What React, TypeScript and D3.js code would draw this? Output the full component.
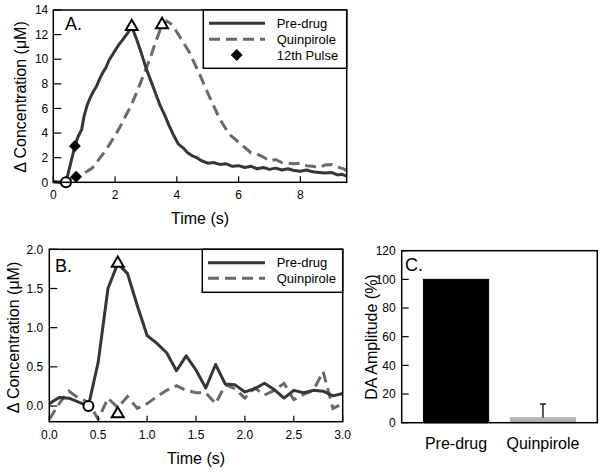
import React from 'react';
import * as d3 from 'd3';

// ---------- Panel A data ----------
const aPreTime = [0, 0.2, 0.41, 0.7, 0.8, 0.92, 1.0, 1.1, 1.2, 1.3, 1.4, 1.5, 1.6, 1.7, 1.8, 1.95, 2.1, 2.25, 2.4, 2.54, 2.7, 2.85, 3.0, 3.15, 3.3, 3.45, 3.6, 3.75, 3.9, 4.05, 4.2, 4.35, 4.5, 4.65, 4.8, 5.0, 5.2, 5.4, 5.6, 5.8, 6.0, 6.2, 6.4, 6.6, 6.8, 7.0, 7.2, 7.4, 7.6, 7.8, 8.0, 8.2, 8.4, 8.6, 8.8, 9.0, 9.2, 9.35, 9.5];
const aPreConc = [0.05, 0.0, 0.0, 2.95, 3.7, 4.3, 5.4, 6.3, 6.9, 7.4, 7.8, 8.4, 8.9, 9.3, 9.9, 10.5, 11.1, 11.6, 12.1, 12.65, 11.6, 10.5, 9.3, 8.3, 7.3, 6.3, 5.5, 4.6, 3.8, 3.1, 2.8, 2.4, 2.15, 2.0, 1.75, 1.55, 1.6, 1.45, 1.5, 1.3, 1.35, 1.2, 1.3, 1.1, 1.2, 1.05, 1.15, 1.0, 1.1, 0.95, 0.9, 1.0, 0.85, 0.8, 0.75, 0.8, 0.6, 0.65, 0.5];

const aQuinTime = [0, 0.2, 0.41, 0.55, 0.74, 0.85, 0.97, 1.1, 1.25, 1.5, 1.7, 1.84, 2.0, 2.16, 2.3, 2.49, 2.65, 2.81, 3.0, 3.15, 3.3, 3.52, 3.67, 3.85, 4.1, 4.4, 4.75, 5.1, 5.4, 5.7, 6.05, 6.4, 6.6, 6.8, 7.0, 7.2, 7.4, 7.6, 7.8, 8.0, 8.2, 8.4, 8.6, 8.8, 9.0, 9.2, 9.4, 9.5];
const aQuinConc = [0.05, 0.0, 0.05, 0.3, 0.45, 0.55, 0.72, 0.9, 1.13, 1.94, 2.6, 3.16, 3.8, 4.5, 5.2, 6.1, 7.0, 8.0, 9.2, 10.2, 11.3, 12.78, 13.1, 12.8, 11.8, 10.6, 8.7, 6.7, 5.1, 3.9, 3.15, 2.4, 2.3, 2.05, 1.75, 1.85, 1.6, 1.55, 1.5, 1.55, 1.35, 1.3, 1.2, 1.4, 1.45, 1.25, 1.1, 0.95];

const aPulseTime = [0.7, 0.74];
const aPulseConc = [2.95, 0.45];
const aPeakTime = [2.54, 3.52];
const aPeakConc = [12.65, 12.8];
const aStartTime = [0.41];
const aStartConc = [0];
const aXTicks = [0, 2, 4, 6, 8];
const aYTicks = [0, 2, 4, 6, 8, 10, 12, 14];

// ---------- Panel B data ----------
const bTime = [0, 0.1, 0.2, 0.3, 0.4, 0.5, 0.6, 0.7, 0.8, 0.9, 1.0, 1.1, 1.2, 1.3, 1.4, 1.5, 1.6, 1.7, 1.8, 1.9, 2.0, 2.1, 2.2, 2.3, 2.4, 2.5, 2.6, 2.7, 2.8, 2.9, 3.0];
const bPre = [0.03, 0.11, 0.1, 0.05, 0.0, 0.56, 1.5, 1.82, 1.69, 1.28, 0.9, 0.8, 0.68, 0.45, 0.64, 0.46, 0.23, 0.53, 0.28, 0.27, 0.18, 0.22, 0.29, 0.21, 0.1, 0.2, 0.17, 0.2, 0.19, 0.13, 0.16];
const bQuin = [-0.17, 0.03, 0.19, 0.1, 0.05, -0.17, 0.1, -0.02, 0.12, -0.03, 0.03, 0.12, 0.2, 0.26, 0.2, 0.17, 0.17, 0.03, 0.27, 0.22, 0.1, 0.23, 0.14, 0.2, 0.29, 0.08, 0.15, 0.2, 0.44, -0.03, 0.03];
const bPeakTime = [0.7, 0.7];
const bPeakConc = [1.82, -0.1];
const bStartTime = [0.4];
const bStartConc = [0];
const bXTicks = [0, 0.5, 1.0, 1.5, 2.0, 2.5, 3.0];
const bYTicks = [0, 0.5, 1.0, 1.5, 2.0];

// ---------- Panel C data ----------
const cCategories = ['Pre-drug', 'Quinpirole'];
const cValues = [100, 3.5];
const cErrors = [0, 9.5];
const cYTicks = [0, 20, 40, 60, 80, 100, 120];

const FONT = 'Liberation Sans, Arial, Helvetica, sans-serif';
const PRE_COLOR = '#363636';
const QUIN_COLOR = '#6a6a6a';
const DASH = '11,6';

const tri = d3.symbol(d3.symbolTriangle, 62)() as string;
const sq = d3.symbol(d3.symbolSquare, 70)() as string;

function Frame({ x0, x1, y0, y1 }: any) {
  return <rect x={x0} y={y0} width={x1 - x0} height={y1 - y0} fill="none" stroke="#000" strokeWidth={1.5} />;
}

function PanelA() {
  const x = d3.scaleLinear().domain([0, 9.5]).range([53.3, 346.7]);
  const y = d3.scaleLinear().domain([0, 14]).range([182.3, 10]);
  const line = d3.line<number>().x((d, i) => 0).y(() => 0);
  const mk = (ts: number[], cs: number[]) =>
    d3.line<number>().x((t) => x(t)).y((_, i) => y(cs[i]))(ts) as string;
  void line;
  const [x0, x1] = x.range();
  const [y0, y1] = [y(14), y(0)];
  return (
    <g fontFamily={FONT}>
      <path d={mk(aQuinTime, aQuinConc)} fill="none" stroke={QUIN_COLOR} strokeWidth={3} strokeDasharray={DASH} />
      <path d={mk(aPreTime, aPreConc)} fill="none" stroke={PRE_COLOR} strokeWidth={3} strokeLinejoin="round" />
      {aPulseTime.map((t, i) => (
        <path key={'p' + i} d={sq} transform={`translate(${x(t)},${y(aPulseConc[i])}) rotate(45)`} fill="#000" />
      ))}
      {aStartTime.map((t, i) => (
        <circle key={'s' + i} cx={x(t)} cy={y(aStartConc[i])} r={5} fill="#fff" stroke="#000" strokeWidth={2} />
      ))}
      {aPeakTime.map((t, i) => (
        <path key={'k' + i} d={tri} transform={`translate(${x(t)},${y(aPeakConc[i])})`} fill="#fff" stroke="#000" strokeWidth={2} />
      ))}
      <Frame x0={x0} x1={x1} y0={y0} y1={y1} />
      {aXTicks.map((t) => (
        <g key={'xt' + t}>
          <line x1={x(t)} x2={x(t)} y1={y1} y2={y1 - 6} stroke="#000" strokeWidth={1.2} />
          <text x={x(t)} y={y1 + 17} fontSize={12} textAnchor="middle">{t}</text>
        </g>
      ))}
      {aYTicks.map((t) => (
        <g key={'yt' + t}>
          <line x1={x0} x2={x0 + 8} y1={y(t)} y2={y(t)} stroke="#000" strokeWidth={1.2} />
          <text x={x0 - 5} y={y(t)} dy="0.35em" fontSize={12} textAnchor="end">{t}</text>
        </g>
      ))}
      <text x={65} y={30} fontSize={18}>A.</text>
      <text x={(x0 + x1) / 2} y={224} fontSize={16} textAnchor="middle">Time (s)</text>
      <text transform={`translate(20,97) rotate(-90)`} dy="0.35em" fontSize={16} textAnchor="middle">Δ Concentration (μM)</text>
      {/* legend */}
      <rect x={203.3} y={10} width={143.4} height={58.3} fill="#fff" stroke="#000" strokeWidth={1.5} />
      <line x1={209} x2={265} y1={23.3} y2={23.3} stroke={PRE_COLOR} strokeWidth={3} />
      <line x1={209} x2={265} y1={39.3} y2={39.3} stroke={QUIN_COLOR} strokeWidth={3} strokeDasharray={DASH} />
      <path d={sq} transform="translate(236.7,55) rotate(45)" fill="#000" />
      <text x={276.7} y={23.3} dy="0.35em" fontSize={13}>Pre-drug</text>
      <text x={276.7} y={39.3} dy="0.35em" fontSize={13}>Quinpirole</text>
      <text x={276.7} y={55} dy="0.35em" fontSize={13}>12th Pulse</text>
    </g>
  );
}

function PanelB() {
  const x = d3.scaleLinear().domain([0, 3]).range([49.3, 342.7]);
  const y = d3.scaleLinear().domain([-0.2, 2.0]).range([421.7, 249.3]);
  const mk = (vals: number[]) => d3.line<number>().x((t) => x(t)).y((_, i) => y(vals[i]))(bTime) as string;
  const [x0, x1] = x.range();
  const [y1, y0] = y.range();
  return (
    <g fontFamily={FONT}>
      <defs>
        <clipPath id="clipB">
          <rect x={x0} y={y0} width={x1 - x0} height={y1 - y0} />
        </clipPath>
      </defs>
      <g clipPath="url(#clipB)">
        <path d={mk(bQuin)} fill="none" stroke={QUIN_COLOR} strokeWidth={3} strokeDasharray={DASH} />
        <path d={mk(bPre)} fill="none" stroke={PRE_COLOR} strokeWidth={3} strokeLinejoin="round" />
      </g>
      {bStartTime.map((t, i) => (
        <circle key={'s' + i} cx={x(t)} cy={y(bStartConc[i])} r={5} fill="#fff" stroke="#000" strokeWidth={2} />
      ))}
      {bPeakTime.map((t, i) => (
        <path key={'k' + i} d={tri} transform={`translate(${x(t)},${y(bPeakConc[i])})`} fill="#fff" stroke="#000" strokeWidth={2} />
      ))}
      <Frame x0={x0} x1={x1} y0={y0} y1={y1} />
      {bXTicks.map((t) => (
        <g key={'xt' + t}>
          <line x1={x(t)} x2={x(t)} y1={y1} y2={y1 - 6} stroke="#000" strokeWidth={1.2} />
          <text x={x(t)} y={y1 + 17} fontSize={12} textAnchor="middle">{d3.format('.1f')(t)}</text>
        </g>
      ))}
      {bYTicks.map((t) => (
        <g key={'yt' + t}>
          <line x1={x0} x2={x0 + 8} y1={y(t)} y2={y(t)} stroke="#000" strokeWidth={1.2} />
          <text x={x0 - 6} y={y(t)} dy="0.35em" fontSize={12} textAnchor="end">{d3.format('.1f')(t)}</text>
        </g>
      ))}
      <text x={55} y={271.7} fontSize={18}>B.</text>
      <text x={(x0 + x1) / 2} y={464} fontSize={16} textAnchor="middle">Time (s)</text>
      <text transform={`translate(13,337.5) rotate(-90)`} dy="0.35em" fontSize={16} textAnchor="middle">Δ Concentration (μM)</text>
      <rect x={202.3} y={249.3} width={140.4} height={43} fill="#fff" stroke="#000" strokeWidth={1.5} />
      <line x1={208} x2={265} y1={262.7} y2={262.7} stroke={PRE_COLOR} strokeWidth={3} />
      <line x1={208} x2={265} y1={278.3} y2={278.3} stroke={QUIN_COLOR} strokeWidth={3} strokeDasharray={DASH} />
      <text x={276.7} y={262.7} dy="0.35em" fontSize={13}>Pre-drug</text>
      <text x={276.7} y={278.3} dy="0.35em" fontSize={13}>Quinpirole</text>
    </g>
  );
}

function PanelC() {
  const x = d3.scaleBand<string>().domain(cCategories).range([401.7, 597.3]).paddingInner(0.25).paddingOuter(0.25);
  const y = d3.scaleLinear().domain([0, 120]).range([422.7, 250.7]);
  const [x0, x1] = x.range();
  const [y1, y0] = y.range();
  const colors = ['#000000', '#b4b4b4'];
  return (
    <g fontFamily={FONT}>
      {cCategories.map((c, i) => (
        <rect key={c} x={x(c)} y={y(cValues[i])} width={x.bandwidth()} height={y(0) - y(cValues[i])} fill={colors[i]} stroke={colors[i]} />
      ))}
      {cCategories.map((c, i) =>
        cErrors[i] > 0 ? (
          <g key={'e' + c} stroke="#222" strokeWidth={1.5}>
            <line x1={x(c)! + x.bandwidth() / 2} x2={x(c)! + x.bandwidth() / 2} y1={y(cValues[i])} y2={y(cValues[i] + cErrors[i])} />
            <line x1={x(c)! + x.bandwidth() / 2 - 3} x2={x(c)! + x.bandwidth() / 2 + 3} y1={y(cValues[i] + cErrors[i])} y2={y(cValues[i] + cErrors[i])} />
          </g>
        ) : null
      )}
      <Frame x0={x0} x1={x1} y0={y0} y1={y1} />
      {cYTicks.map((t) => (
        <g key={'yt' + t}>
          <line x1={x0} x2={x0 + 7} y1={y(t)} y2={y(t)} stroke="#000" strokeWidth={1.2} />
          <text x={x0 - 6} y={y(t)} dy="0.35em" fontSize={12} textAnchor="end">{t}</text>
        </g>
      ))}
      {cCategories.map((c) => (
        <text key={'l' + c} x={x(c)! + x.bandwidth() / 2} y={449} fontSize={16} textAnchor="middle">{c}</text>
      ))}
      <text x={405} y={270.7} fontSize={18}>C.</text>
      <text transform={`translate(371,337) rotate(-90)`} dy="0.35em" fontSize={16} textAnchor="middle">DA Amplitude (%)</text>
    </g>
  );
}

export default function App() {
  return (
    <svg width={600} height={472} style={{ position: 'absolute', left: 0, top: 0, background: '#fff' }}>
      <rect width={600} height={472} fill="#fff" />
      <PanelA />
      <PanelB />
      <PanelC />
    </svg>
  );
}
